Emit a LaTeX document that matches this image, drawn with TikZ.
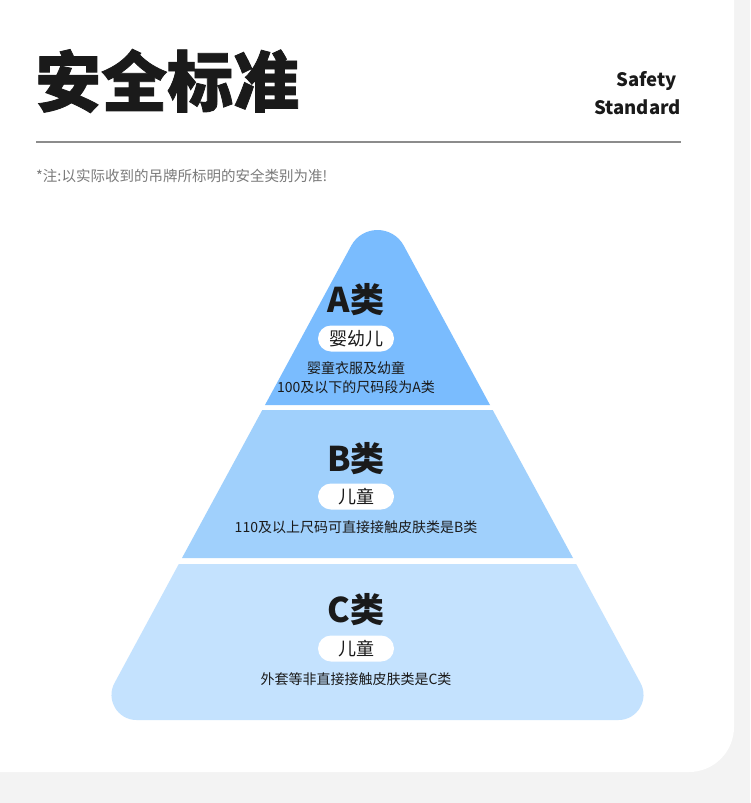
\documentclass[tikz,border=0pt]{standalone}
\usepackage{fontspec}
\usetikzlibrary{positioning}
\newfontfamily\cjk{Noto Sans CJK SC}
\newfontfamily\cjkheavy{Noto Sans CJK SC}[BoldFeatures={FakeBold=1.2}]

\definecolor{pagegray}{HTML}{F3F3F3}
\definecolor{tierA}{HTML}{7ABCFE}
\definecolor{tierB}{HTML}{A0D0FC}
\definecolor{tierC}{HTML}{C4E2FE}
\definecolor{inkdark}{HTML}{1A1A1A}
\definecolor{notegray}{HTML}{7A7A7A}
\definecolor{rulegray}{HTML}{8C8C8C}

\tikzset{
  tiername/.style={font=\cjk\bfseries\fontsize{34}{34}\selectfont, text=inkdark, inner sep=0},
  pill/.style={fill=white, rounded corners=13, minimum width=76, minimum height=26,
    font=\cjk\fontsize{18}{18}\selectfont, text=inkdark, inner sep=0},
  tierdesc/.style={font=\cjk\fontsize{14}{19}\selectfont, text=inkdark, align=center, inner sep=0},
}

\begin{document}
\begin{tikzpicture}[x=1pt, y=-1pt]
    \useasboundingbox (0,0) rectangle (750,803);
    % page and card
    \fill[pagegray] (0,0) rectangle (750,803);
    \fill[white, rounded corners=45] (-60,-60) rectangle (734,772);

    % heading
    \node[anchor=west, inner sep=0, text=inkdark, font=\cjkheavy\bfseries\fontsize{66}{66}\selectfont] (title) at (35,81) {安全标准};
    \node[anchor=east, inner sep=0, text=inkdark, font=\cjk\bfseries\fontsize{18.5}{18.5}\selectfont] (safety) at (677,81) {Safety};
    \node[anchor=east, inner sep=0, text=inkdark, font=\cjk\bfseries\fontsize{18.5}{18.5}\selectfont] (standard) at (681,107) {Standard};
    \draw[rulegray, line width=1.5] (36,142) -- (681,142);
    \node[anchor=west, inner sep=0, text=notegray, font=\cjk\fontsize{14.5}{14.5}\selectfont] (note) at (36,176) {*注:以实际收到的吊牌所标明的安全类别为准!};

    % pyramid tiers
    \fill[tierA] (265,405) -- (351.2,245.7) .. controls (362.5,224.8) and (392.5,224.8) .. (403.8,245.7) -- (490,405) -- cycle;
    \fill[tierB] (262.3,410) -- (492.7,410) -- (573,558) -- (182,558) -- cycle;
    \fill[tierC] (178.8,564) -- (576.2,564) -- (640.5,683) .. controls (649.5,699.6) and (637.4,720) .. (618.5,720)
        -- (136.5,720) .. controls (117.6,720) and (105.5,699.6) .. (114.5,683) -- cycle;

    % tier A
    \node[tiername] (classA) at (356,300) {A类};
    \node[pill] (pillA) at (356,338.5) {婴幼儿};
    \node[tierdesc] (descA) at (356,377.5) {婴童衣服及幼童\\100及以下的尺码段为A类};
    % tier B
    \node[tiername] (classB) at (356,458.5) {B类};
    \node[pill] (pillB) at (356,496.5) {儿童};
    \node[tierdesc] (descB) at (356,527.5) {110及以上尺码可直接接触皮肤类是B类};
    % tier C
    \node[tiername] (classC) at (356,610) {C类};
    \node[pill] (pillC) at (356,648.5) {儿童};
    \node[tierdesc] (descC) at (356,679.5) {外套等非直接接触皮肤类是C类};
\end{tikzpicture}
\end{document}
